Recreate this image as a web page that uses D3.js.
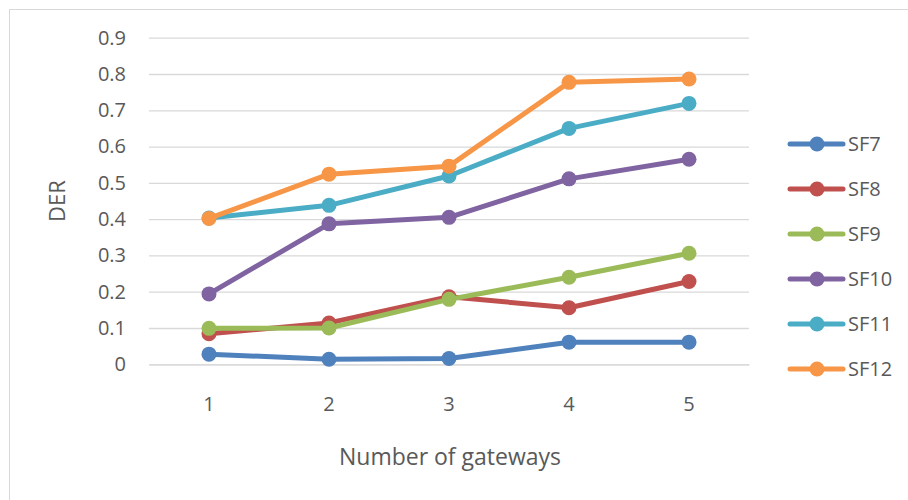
<!DOCTYPE html>
<html><head><meta charset="utf-8">
<script src="https://cdn.jsdelivr.net/npm/d3@7"></script>
<style>body{margin:0;background:#fff}svg{display:block}text{font-family:"Open Sans",sans-serif;fill:#595959}</style>
</head><body><svg id="c" width="908" height="500"></svg>
<script>
const categories = ["1","2","3","4","5"];
const seriesNames = ["SF7","SF8","SF9","SF10","SF11","SF12"];
const sf7  = [0.028,0.014,0.016,0.061,0.061];
const sf8  = [0.084,0.114,0.186,0.156,0.228];
const sf9  = [0.099,0.100,0.179,0.240,0.306];
const sf10 = [0.194,0.387,0.405,0.511,0.565];
const sf11 = [0.403,0.438,0.519,0.650,0.719];
const sf12 = [0.402,0.524,0.546,0.777,0.786];
const yTicks = [0,0.1,0.2,0.3,0.4,0.5,0.6,0.7,0.8,0.9];
const colors = ["#4F81BD","#C0504D","#9BBB59","#8064A2","#4BACC6","#F79646"];
const seriesValues = [sf7,sf8,sf9,sf10,sf11,sf12];

const svg = d3.select("#c");
svg.append("rect").attr("x",9.5).attr("y",9.5).attr("width",1000).attr("height",1000)
  .attr("fill","none").attr("stroke","#d9d9d9");

const x = d3.scaleBand().domain(categories).range([149,749]);
const y = d3.scaleLinear().domain([0,0.9]).range([364.3,37.7]);

const gy = svg.append("g").attr("transform","translate(149,0)")
  .call(d3.axisLeft(y).tickValues(yTicks).tickSize(-600).tickFormat(d=>d===0?"0":d3.format(".1f")(d)).tickPadding(23));
gy.select(".domain").remove();
gy.selectAll(".tick line").attr("stroke","#d9d9d9").attr("stroke-width",1.3);
gy.selectAll(".tick text").attr("font-size",20).attr("fill","#595959");

const gx = svg.append("g").attr("transform","translate(0,364.3)")
  .call(d3.axisBottom(x).tickSize(0).tickPadding(33));
gx.select(".domain").attr("stroke","#d9d9d9").attr("stroke-width",1.3);
gx.selectAll(".tick text").attr("font-size",20).attr("fill","#595959");

svg.append("text").attr("x",450).attr("y",465).attr("text-anchor","middle")
  .attr("font-size",23).text("Number of gateways");
svg.append("text").attr("transform","translate(65,201) rotate(-90)").attr("text-anchor","middle")
  .attr("font-size",22).text("DER");

const line = d3.line().x((d,i)=>x(categories[i])+x.bandwidth()/2).y(d=>y(d));
seriesValues.forEach((vals,si)=>{
  const g = svg.append("g");
  g.append("path").datum(vals).attr("d",line).attr("fill","none")
    .attr("stroke",colors[si]).attr("stroke-width",5).attr("stroke-linejoin","round").attr("stroke-linecap","round");
  g.selectAll("circle").data(vals).join("circle")
    .attr("cx",(d,i)=>x(categories[i])+x.bandwidth()/2).attr("cy",d=>y(d)).attr("r",7.5).attr("fill",colors[si]);
});

const lg = svg.append("g");
seriesNames.forEach((n,i)=>{
  const yy = 144 + i*45;
  lg.append("line").attr("x1",790).attr("x2",843).attr("y1",yy).attr("y2",yy)
    .attr("stroke",colors[i]).attr("stroke-width",5).attr("stroke-linecap","round");
  lg.append("circle").attr("cx",817).attr("cy",yy).attr("r",7.5).attr("fill",colors[i]);
  lg.append("text").attr("x",848).attr("y",yy).attr("dy","0.35em").attr("font-size",20).text(n);
});
</script></body></html>
